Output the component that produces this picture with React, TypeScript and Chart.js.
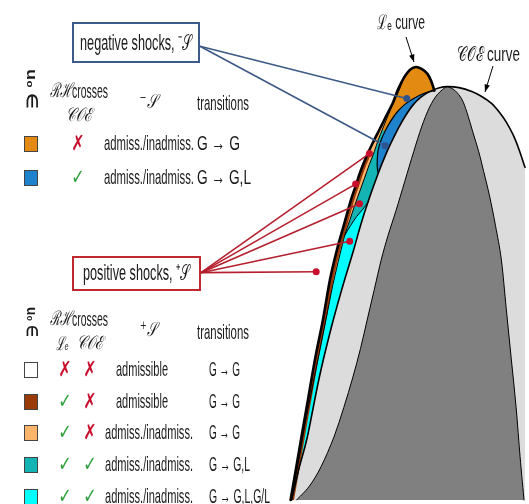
import React, { useEffect, useRef } from "react";
import { Chart, registerables } from "chart.js";
Chart.register(...registerables);

type P = [number, number];

// ---- curves (x, y in chart units; y axis reversed) ----
const leCurve: P[] = [
  [291, 504], [296, 475], [302, 440], [309, 400], [316, 360], [324, 320], [331, 280], [338, 250],
  [345, 225], [352, 200], [357, 185], [362, 170], [368, 155], [374, 142], [381, 128], [388, 114],
  [395, 100], [400, 87], [406, 75], [412, 67], [418, 64], [424, 66], [430, 71], [434, 79], [437, 88],
];
const coeCurve: P[] = [
  [292, 504], [300, 470], [308, 440], [320, 380], [332, 330], [343, 290], [355, 250], [362, 225],
  [370, 200], [380, 172], [388, 152], [395, 137], [401, 125], [408, 113], [415, 103], [423, 95],
  [432, 89], [442, 85], [451, 84], [462, 85], [475, 89], [485, 94], [495, 101], [503, 110],
  [510, 120], [517, 133], [523, 148], [529, 166],
];
const innerEdge: P[] = [
  [407, 72], [403, 83], [398, 95], [393, 106], [388, 118], [384, 128], [380, 138], [376, 150],
  [371, 163], [366, 177], [361, 191], [356, 205], [351, 220], [346, 235], [341, 255], [334, 285],
  [327, 320], [320, 355], [313, 390], [306, 425], [300, 460], [295, 485], [292, 504],
];
const blueEdge: P[] = [
  [437, 88], [426, 91], [416, 96], [407, 102], [399, 110], [392, 120], [387, 129], [383, 138],
  [380, 148], [379, 158], [379, 166], [380, 172],
];
const cyanEdge: P[] = [[346, 235], [352, 225], [358, 216], [364, 209], [370, 201]];
const coreLeft: P[] = [
  [297, 504], [310, 490], [322, 470], [335, 440], [345, 410], [354, 380], [362, 350], [369, 320],
  [376, 290], [383, 260], [390, 235], [398, 210], [407, 180], [416, 150], [424, 125], [432, 105],
  [440, 92], [449, 84],
];
const coreRight: P[] = [
  [451, 84], [458, 88], [465, 97], [470, 110], [476, 130], [482, 150], [487, 170], [493, 195],
  [499, 225], [505, 260], [510, 310], [515, 360], [520, 410], [524, 460], [528, 504],
];

// ---- shocks ----
const negShockFrom: P = [199, 43];
const negShockDots: P[] = [[409, 96], [387, 144]];
const posShockFrom: P = [200, 273];
const posShockDots: P[] = [[371, 152], [357, 183], [361, 203], [351, 241], [317, 272]];

// ---- tables ----
const topColors = ["#E38A12", "#1E82CC"];
const topCrossCOE = [false, true];
const topShock = ["admiss./inadmiss.", "admiss./inadmiss."];
const topTransitions = ["G → G", "G → G,L"];

const botColors = ["#FFFFFF", "#9A3A06", "#FDB46B", "#14B4B4", "#00FFFF"];
const botCrossLe = [false, true, true, true, true];
const botCrossCOE = [false, false, false, true, true];
const botShock = ["admissible", "admissible", "admiss./inadmiss.", "admiss./inadmiss.", "admiss./inadmiss."];
const botTransitions = ["G → G", "G → G", "G → G", "G → G,L", "G → G,L,G/L"];

const C = {
  lightGray: "#DCDCDC",
  darkGray: "#808080",
  lightOrange: "#FDB46B",
  darkOrange: "#E38A12",
  blue: "#1E82CC",
  teal: "#14B4B4",
  cyan: "#00FFFF",
  brown: "#9A3A06",
};

const SANS = '"Liberation Sans", Arial, sans-serif';
const SERIF = '"DejaVu Serif", "Liberation Serif", serif';

const diagramPlugin = {
  id: "diagram",
  beforeDatasetsDraw(chart: any) {
    const ctx: CanvasRenderingContext2D = chart.ctx;
    const sx = chart.scales.x, sy = chart.scales.y;
    const toPx = (pts: P[]) => pts.map((p) => [sx.getPixelForValue(p[0]), sy.getPixelForValue(p[1])] as P);
    const trace = (raw: P[], move: boolean) => {
      const pts = toPx(raw);
      if (!pts.length) return;
      if (move) ctx.moveTo(pts[0][0], pts[0][1]);
      else ctx.lineTo(pts[0][0], pts[0][1]);
      for (let i = 0; i < pts.length - 1; i++) {
        const p0 = pts[i - 1] || pts[i], p1 = pts[i], p2 = pts[i + 1], p3 = pts[i + 2] || p2;
        ctx.bezierCurveTo(
          p1[0] + (p2[0] - p0[0]) / 6, p1[1] + (p2[1] - p0[1]) / 6,
          p2[0] - (p3[0] - p1[0]) / 6, p2[1] - (p3[1] - p1[1]) / 6,
          p2[0], p2[1]
        );
      }
    };
    const poly = (segs: P[][], fill: string) => {
      ctx.beginPath();
      segs.forEach((s, i) => trace(s, i === 0));
      ctx.closePath();
      ctx.fillStyle = fill;
      ctx.fill();
    };
    const stroke = (pts: P[], w: number, color = "#000") => {
      ctx.beginPath();
      trace(pts, true);
      ctx.lineWidth = w;
      ctx.strokeStyle = color;
      ctx.lineJoin = "round";
      ctx.lineCap = "round";
      ctx.stroke();
    };
    const rev = (a: P[]) => a.slice().reverse();

    let peak = 0;
    coeCurve.forEach((p, i) => { if (p[1] < coeCurve[peak][1]) peak = i; });
    const coeLeft = coeCurve.filter((p, i) => i < peak && p[0] <= 437);
    const coeRightEnd = coeCurve[coeCurve.length - 1];

    ctx.save();
    poly([coeCurve, [[coeRightEnd[0], 504]]], C.lightGray);
    poly([coreLeft, coreRight], C.darkGray);
    poly([leCurve, rev(coeLeft)], C.lightOrange);
    poly([innerEdge, coeLeft], C.teal);
    poly([cyanEdge, rev(coeLeft.filter((p) => p[1] >= 200)), rev(innerEdge.filter((p) => p[1] >= 235))], C.cyan);
    const leIdx = leCurve.findIndex((p) => p[1] <= 75);
    poly([rev(leCurve.slice(leIdx)), innerEdge.filter((p) => p[1] <= 128), rev(blueEdge.filter((p) => p[1] <= 129))], C.darkOrange);
    poly([blueEdge, coeLeft.filter((p) => p[1] <= 172)], C.blue);
    const leLow = leCurve.filter((p) => p[1] >= 150);
    poly([leLow, rev(leLow.map((p) => [p[0] + 3.5, p[1]] as P))], C.brown);

    stroke(coreLeft, 1);
    stroke(coreRight, 1);
    stroke(innerEdge, 1);
    stroke(blueEdge, 1.2);
    stroke(cyanEdge, 1);
    stroke(coeCurve, 1.6);
    stroke(leCurve, 2.6);
    ctx.restore();
  },
  afterDatasetsDraw(chart: any) {
    const ctx: CanvasRenderingContext2D = chart.ctx;
    ctx.save();
    const fit = (s: string, x: number, y: number, w: number, size: number, opts: any = {}) => {
      ctx.font = `${opts.italic ? "italic " : ""}${opts.bold ? "bold " : ""}${size}px ${opts.family || SANS}`;
      ctx.fillStyle = opts.color || "#1a1a1a";
      ctx.textBaseline = "middle";
      ctx.textAlign = "left";
      const nat = ctx.measureText(s).width;
      const k = w / nat;
      ctx.save();
      const x0 = opts.center ? x - w / 2 : x;
      ctx.translate(x0, y);
      ctx.scale(k, 1);
      ctx.fillText(s, 0, 0);
      ctx.restore();
    };
    const mark = (ok: boolean, x: number, y: number) => {
      ctx.font = `20px "DejaVu Sans", sans-serif`;
      ctx.textAlign = "center";
      ctx.textBaseline = "middle";
      ctx.fillStyle = ok ? "#2E9E3A" : "#C8102E";
      ctx.save();
      ctx.translate(x, y + 1);
      ctx.scale(0.8, 1.05);
      ctx.fillText(ok ? "✓" : "✗", 0, 0);
      ctx.restore();
    };
    const box = (x: number, y: number, w: number, h: number, color: string) => {
      ctx.lineWidth = 2;
      ctx.strokeStyle = color;
      ctx.fillStyle = "#fff";
      ctx.fillRect(x, y, w, h);
      ctx.strokeRect(x, y, w, h);
    };
    const square = (x: number, y: number, color: string) => {
      ctx.fillStyle = color;
      ctx.fillRect(x, y - 8, 14, 16);
      ctx.lineWidth = 1;
      ctx.strokeStyle = "#444";
      ctx.strokeRect(x + 0.5, y - 7.5, 13, 15);
    };
    const arrow = (x1: number, y1: number, x2: number, y2: number) => {
      ctx.strokeStyle = "#000";
      ctx.fillStyle = "#000";
      ctx.lineWidth = 1;
      ctx.beginPath();
      ctx.moveTo(x1, y1);
      ctx.lineTo(x2, y2);
      ctx.stroke();
      const a = Math.atan2(y2 - y1, x2 - x1);
      ctx.beginPath();
      ctx.moveTo(x2, y2);
      ctx.lineTo(x2 - 8 * Math.cos(a - 0.35), y2 - 8 * Math.sin(a - 0.35));
      ctx.lineTo(x2 - 8 * Math.cos(a + 0.35), y2 - 8 * Math.sin(a + 0.35));
      ctx.closePath();
      ctx.fill();
    };
    const rotLabel = (cx: number, cy: number, len: number) => {
      ctx.save();
      ctx.translate(cx, cy);
      ctx.rotate(Math.PI / 2);
      ctx.font = `bold 15px ${SANS}`;
      ctx.fillStyle = "#1a1a1a";
      ctx.textAlign = "left";
      ctx.textBaseline = "middle";
      const s = "u₀ ∈";
      const nat = ctx.measureText(s).width;
      ctx.scale(len / nat, 1);
      ctx.fillText(s, -nat / 2, 0);
      ctx.restore();
    };

    box(73, 23, 126, 39, "#3B5B8A");
    fit("negative shocks, ⁻𝒮", 80, 44, 112, 22);
    box(73, 257, 127, 33, "#C0282D");
    fit("positive shocks, ⁺𝒮", 83, 274, 107, 22);

    fit("ℒₑ curve", 377, 23, 48, 20);
    arrow(406, 37, 414, 62);
    fit("𝒞𝒪ℰ curve", 457, 55, 63, 20);
    arrow(493, 66, 485, 92);

    rotLabel(31, 89, 40);
    fit("ℛℋ", 50, 92, 22, 20, { family: SERIF, italic: true });
    fit("crosses", 72, 92, 36, 21);
    fit("𝒞𝒪ℰ", 79, 116, 26, 19, { family: SERIF, italic: true, center: true });
    fit("⁻𝒮", 148, 103, 17, 20, { family: SERIF, italic: true, center: true });
    fit("transitions", 197, 104, 52, 21);
    const topRowsY = [144, 178];
    topRowsY.forEach((y, i) => {
      square(24, y, topColors[i]);
      mark(topCrossCOE[i], 78, y);
      fit(topShock[i], 104, y, 90, 21);
      fit(topTransitions[i], 197, y, i === 0 ? 43 : 54, 21);
    });

    rotLabel(31, 322, 30);
    fit("ℛℋ", 50, 320, 22, 20, { family: SERIF, italic: true });
    fit("crosses", 72, 320, 36, 21);
    fit("ℒₑ", 62, 345, 13, 19, { family: SERIF, italic: true, center: true });
    fit("𝒞𝒪ℰ", 90, 344, 26, 19, { family: SERIF, italic: true, center: true });
    fit("⁺𝒮", 148, 331, 16, 20, { family: SERIF, italic: true, center: true });
    fit("transitions", 197, 333, 52, 21);
    const botRowsY = [370, 402, 433, 465, 497];
    const transW = [31, 31, 31, 41, 61];
    botRowsY.forEach((y, i) => {
      square(24, y, botColors[i]);
      mark(botCrossLe[i], 65, y);
      mark(botCrossCOE[i], 90, y);
      if (botShock[i] === "admissible") fit(botShock[i], 116, y, 52, 21);
      else fit(botShock[i], 105, y, 88, 21);
      fit(botTransitions[i], 209, y, transW[i], 21);
    });
    ctx.restore();
  },
};

export default function App() {
  const ref = useRef<HTMLCanvasElement>(null);
  useEffect(() => {
    if (!ref.current) return;
    const mk = (from: P, dots: P[], line: string, dot: string) =>
      dots.map((d) => ({
        type: "scatter" as const,
        data: [{ x: from[0], y: from[1] }, { x: d[0], y: d[1] }],
        showLine: true,
        borderColor: line,
        borderWidth: 1.6,
        pointRadius: [0, 3.5],
        pointBackgroundColor: dot,
        pointBorderWidth: 0,
        clip: false as const,
      }));
    const chart = new Chart(ref.current, {
      type: "scatter",
      data: {
        datasets: [
          ...mk(negShockFrom, negShockDots, "#3D5A86", "#2E5590"),
          ...mk(posShockFrom, posShockDots, "#B51F2E", "#C8102E"),
        ],
      },
      options: {
        animation: false,
        responsive: false,
        devicePixelRatio: 1,
        events: [],
        layout: { padding: 0 },
        plugins: { legend: { display: false }, tooltip: { enabled: false } },
        scales: {
          x: { type: "linear", min: 0, max: 529, display: false },
          y: { type: "linear", min: 0, max: 504, reverse: true, display: false },
        },
      },
      plugins: [diagramPlugin],
    });
    return () => chart.destroy();
  }, []);
  return (
    <div style={{ position: "fixed", left: 0, top: 0, width: 529, height: 504, background: "#fff" }}>
      <canvas ref={ref} width={529} height={504} style={{ display: "block" }} />
    </div>
  );
}
